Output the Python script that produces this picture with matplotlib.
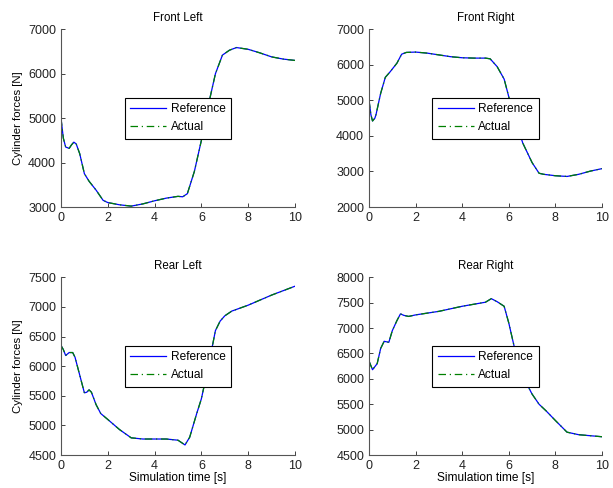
import matplotlib
matplotlib.use("Agg")
import matplotlib.pyplot as plt

plt.rcParams["font.family"] = ["Liberation Sans", "DejaVu Sans"]
plt.rcParams["font.size"] = 8

titles = ["Front Left", "Front Right", "Rear Left", "Rear Right"]

t_fl = [0, 0.1, 0.2, 0.35, 0.45, 0.55, 0.65, 0.8, 1.0, 1.2, 1.5, 1.8, 2.0, 2.5, 3.0, 3.5, 4.0,
        4.5, 5.0, 5.2, 5.4, 5.7, 6.0, 6.3, 6.6, 6.9, 7.2, 7.5, 8.0, 8.5, 9.0, 9.5, 10.0]
f_fl = [5000, 4550, 4350, 4320, 4400, 4460, 4420, 4200, 3750, 3580, 3380, 3150, 3100, 3050,
        3020, 3070, 3140, 3200, 3240, 3230, 3300, 3800, 4500, 5300, 6000, 6420, 6530, 6590,
        6550, 6470, 6380, 6330, 6300]

t_fr = [0, 0.08, 0.15, 0.25, 0.3, 0.5, 0.7, 0.9, 1.2, 1.4, 1.6, 2.0, 2.5, 3.0, 3.5, 4.0, 4.5,
        5.0, 5.2, 5.5, 5.8, 6.0, 6.3, 6.6, 7.0, 7.3, 7.5, 8.0, 8.5, 9.0, 9.5, 10.0]
f_fr = [5000, 4600, 4420, 4500, 4600, 5200, 5650, 5800, 6050, 6300, 6350, 6360, 6330, 6280,
        6230, 6200, 6190, 6190, 6170, 5950, 5600, 5100, 4400, 3800, 3250, 2950, 2920, 2880,
        2860, 2920, 3010, 3080]

t_rl = [0, 0.1, 0.2, 0.35, 0.5, 0.6, 0.8, 1.0, 1.1, 1.2, 1.3, 1.5, 1.7, 2.0, 2.5, 3.0, 3.5,
        4.0, 4.5, 5.0, 5.3, 5.5, 5.8, 6.0, 6.3, 6.6, 6.8, 7.0, 7.3, 8.0, 9.0, 10.0]
f_rl = [6350, 6280, 6180, 6230, 6230, 6150, 5850, 5550, 5560, 5600, 5560, 5350, 5200, 5100,
        4930, 4790, 4770, 4770, 4770, 4750, 4670, 4800, 5200, 5450, 6000, 6600, 6760, 6850,
        6930, 7030, 7200, 7350]

t_rr = [0, 0.15, 0.35, 0.5, 0.65, 0.85, 1.0, 1.2, 1.35, 1.5, 1.7, 2.0, 3.0, 4.0, 5.0, 5.25,
        5.5, 5.8, 6.0, 6.3, 6.6, 7.0, 7.3, 7.6, 8.0, 8.5, 9.0, 9.5, 10.0]
f_rr = [6350, 6180, 6300, 6600, 6740, 6720, 6950, 7150, 7280, 7250, 7230, 7260, 7330, 7430,
        7510, 7580, 7520, 7430, 7100, 6500, 6050, 5700, 5500, 5370, 5180, 4950, 4900, 4880,
        4860]

series = [(t_fl, f_fl), (t_fr, f_fr), (t_rl, f_rl), (t_rr, f_rr)]
ylims = [(3000, 7000), (2000, 7000), (4500, 7500), (4500, 8000)]
ysteps = [1000, 1000, 500, 500]

fig = plt.figure(figsize=(6.13, 4.88), dpi=100)
positions = [
    [0.0995, 0.5758, 0.3817, 0.3641],
    [0.602, 0.5758, 0.380, 0.3641],
    [0.0995, 0.0676, 0.3817, 0.3641],
    [0.602, 0.0676, 0.380, 0.3641],
]

for i, (t, f) in enumerate(series):
    ax = fig.add_axes(positions[i])
    ax.plot(t, f, color="blue", linewidth=0.9, label="Reference")
    ax.plot(t, f, color=(0, 0.5, 0), linewidth=0.9, linestyle=(0, (6, 3, 1, 3)), label="Actual")
    ax.set_xlim(0, 10)
    ax.set_ylim(*ylims[i])
    ax.set_xticks(range(0, 11, 2))
    lo, hi = ylims[i]
    ax.set_yticks(range(lo, hi + 1, ysteps[i]))
    ax.set_title(titles[i], fontsize=8.3, pad=6)
    ax.spines["top"].set_visible(False)
    ax.spines["right"].set_visible(False)
    for s in ("left", "bottom"):
        ax.spines[s].set_color("#555555")
        ax.spines[s].set_linewidth(0.8)
    ax.tick_params(direction="in", length=3, width=0.6, labelsize=9, colors="#222222")
    if i % 2 == 0:
        ax.set_ylabel("Cylinder forces [N]", fontsize=8.2)
    if i >= 2:
        ax.set_xlabel("Simulation time [s]", fontsize=8.6, labelpad=0)
    leg = ax.legend(loc="center", fancybox=False, framealpha=1, edgecolor="black",
                    handlelength=3.0, fontsize=8.6, borderpad=0.45, labelspacing=0.5,
                    handletextpad=0.4, borderaxespad=0)
    leg.get_frame().set_linewidth(0.8)

fig.savefig("out.png", dpi=100)
